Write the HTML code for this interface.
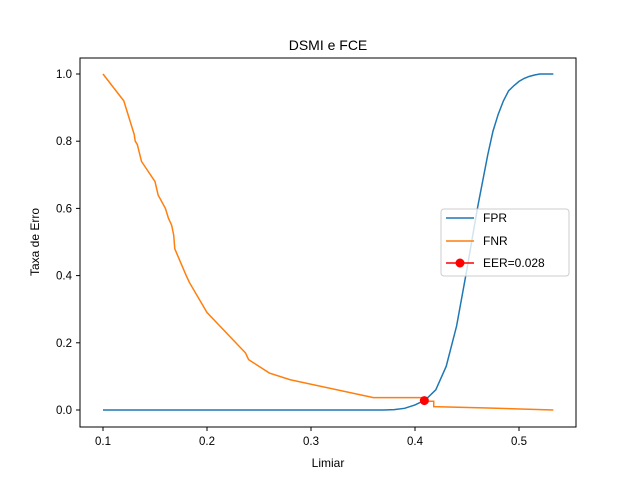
<!DOCTYPE html>
<html><head><meta charset="utf-8"><style>body{margin:0;background:#fff}svg{display:block;font-family:"Liberation Sans","DejaVu Sans",sans-serif}</style></head>
<body>
<svg id="c" width="640" height="480"></svg>
<script>
const xTicks=[0.1,0.2,0.3,0.4,0.5];
const xTickLabels=["0.1","0.2","0.3","0.4","0.5"];
const yTicks=[0,0.2,0.4,0.6,0.8,1.0];
const yTickLabels=["0.0","0.2","0.4","0.6","0.8","1.0"];
const fprX=[0.1,0.2,0.3,0.37,0.38,0.39,0.40,0.41,0.42,0.43,0.44,0.45,0.46,0.47,0.475,0.48,0.485,0.49,0.495,0.50,0.505,0.51,0.515,0.52,0.533];
const fprY=[0,0,0,0,0.001,0.005,0.015,0.03,0.06,0.13,0.25,0.42,0.6,0.76,0.83,0.88,0.92,0.95,0.965,0.978,0.987,0.993,0.997,1.0,1.0];
const fnrX=[0.1,0.12,0.13,0.131,0.133,0.137,0.15,0.153,0.16,0.163,0.166,0.168,0.169,0.18,0.183,0.2,0.237,0.24,0.26,0.28,0.36,0.41,0.41,0.418,0.418,0.47,0.533];
const fnrY=[1.0,0.92,0.82,0.80,0.79,0.74,0.68,0.64,0.6,0.57,0.55,0.52,0.48,0.4,0.38,0.29,0.17,0.15,0.11,0.09,0.037,0.037,0.026,0.026,0.01,0.006,0.0];
const eerX=[0.409];
const eerY=[0.028];
const NS="http://www.w3.org/2000/svg";
const svg=document.getElementById('c');
const X=v=>103+(v-0.1)*1040, Y=v=>410-v*336;
function el(t,a,txt){const e=document.createElementNS(NS,t);for(const k in a)e.setAttribute(k,a[k]);if(txt!==undefined)e.textContent=txt;svg.appendChild(e);return e;}
let e;
e=el('rect',{x:80,y:58,width:496,height:369,fill:'none',stroke:'#000','stroke-width':1});


xTicks.forEach((v,i)=>{
 e=el('line',{x1:X(v),x2:X(v),y1:427,y2:431,stroke:'#000'});
 
 
 e=el('text',{x:X(v),y:445,'font-size':11.5,'text-anchor':'middle'},xTickLabels[i]);
 
 
});
yTicks.forEach((v,i)=>{
 e=el('line',{x1:76,x2:80,y1:Y(v),y2:Y(v),stroke:'#000'});
 
 
 e=el('text',{x:72,y:Y(v)+4,'font-size':11.5,'text-anchor':'end'},yTickLabels[i]);
 
 
});
e=el('path',{d:fprX.map((v,i)=>(i?'L':'M')+X(v)+','+Y(fprY[i])).join(''),fill:'none',stroke:'#1f77b4','stroke-width':1.5});


e=el('path',{d:fnrX.map((v,i)=>(i?'L':'M')+X(v)+','+Y(fnrY[i])).join(''),fill:'none',stroke:'#ff7f0e','stroke-width':1.5});


eerX.forEach((v,i)=>{
 e=el('circle',{cx:X(v),cy:Y(eerY[i]),r:4.5,fill:'#ff0000'});
 
 
});
e=el('text',{x:328,y:50,'font-size':14,'text-anchor':'middle'},'DSMI e FCE');


e=el('text',{x:328,y:467,'font-size':12,'text-anchor':'middle'},'Limiar');


e=el('text',{x:0,y:0,'font-size':12,'text-anchor':'middle',transform:'translate(39,242) rotate(-90)'},'Taxa de Erro');


e=el('rect',{x:441,y:209,width:128,height:67,rx:3,fill:'#fff','fill-opacity':0.8,stroke:'#ccc'});


[['FPR','#1f77b4',218],['FNR','#ff7f0e',241],['EER=0.028','#ff0000',263]].forEach((d,i)=>{
 e=el('line',{x1:446,x2:474,y1:d[2],y2:d[2],stroke:d[1],'stroke-width':1.5});
 
 
 if(i==2){e=el('circle',{cx:460,cy:d[2],r:4.5,fill:'#ff0000'});
 
 }
 e=el('text',{x:483,y:d[2]+4,'font-size':12},d[0]);
 
 
});
</script>
</body></html>
